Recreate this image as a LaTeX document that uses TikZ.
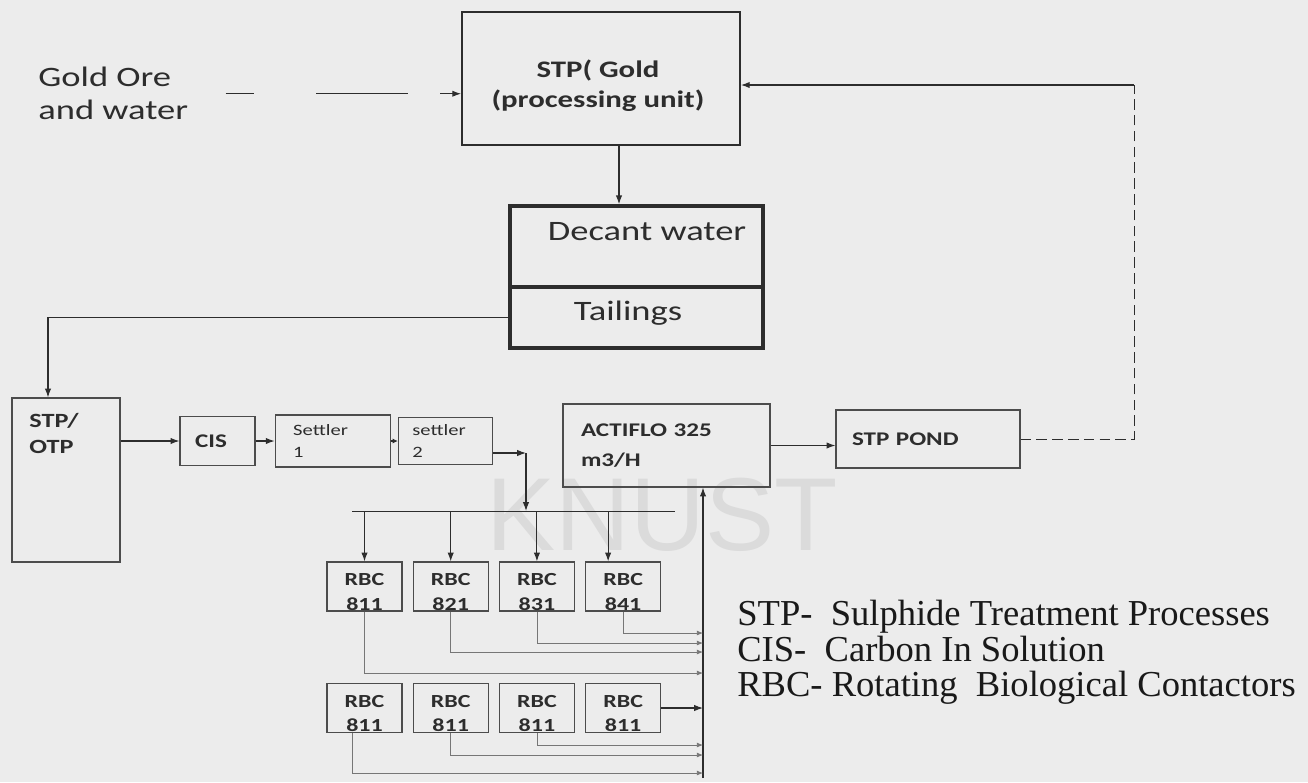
\documentclass[tikz,border=0pt]{standalone}
\usepackage{fontspec}
\usepackage{xcolor}
\usepackage{tikz}
\usetikzlibrary{arrows.meta, positioning, calc}
\setmainfont{Liberation Serif}
\newfontfamily\diafont[FakeStretch=1.3]{Carlito}
\newfontfamily\wmfont[FakeStretch=1.0]{Liberation Sans}
\definecolor{page}{RGB}{236,236,236}
\definecolor{ink}{RGB}{45,45,45}

\begin{document}
\begin{tikzpicture}[x=0.02cm, y=-0.02cm, node distance=0.2cm,
  every node/.style={inner sep=0pt, text=ink},
  unit/.style={draw=ink!85, line width=0.7pt, align=left, font=\diafont\bfseries\fontsize{11}{14}\selectfont},
  rtext/.style={align=left, font=\diafont\fontsize{16}{18.8}\selectfont},
  stext/.style={font=\diafont\fontsize{9}{12.5}\selectfont},
  rbclab/.style={align=center, yshift=-0.11cm, font=\diafont\bfseries\fontsize{10.5}{14}\selectfont},
  rbc/.style={unit, minimum width=1.5cm, minimum height=0.98cm, label={[rbclab]center:{RBC\\#1}}},
  arr/.style={-{Latex[length=5pt,width=3.6pt]}, draw=ink, line width=0.6pt},
  feed/.style={-{Latex[length=3.5pt,width=2.8pt]}, draw=ink!65, line width=0.45pt}]

\fill[page] (0,0) rectangle (1308,782);
\useasboundingbox (0,0) rectangle (1308,782);

% Watermark
\node[anchor=north west, font=\wmfont\fontsize{59}{59}\selectfont, text=black!14] (wm) at (486,478) {KNUST};

% Nodes
\node[rtext, anchor=north west] (ore) at (38,67) {Gold Ore\\and water};

\node[draw=ink, line width=1.1pt, minimum width=5.56cm, minimum height=2.66cm] (gold) at (601,78.5) {};
\node[align=center, font=\diafont\bfseries\fontsize{13.5}{17}\selectfont] (gold-t) at (598,86) {STP( Gold\\(processing unit)};

\node[draw=ink, line width=2pt, minimum width=5.06cm, minimum height=1.62cm] (decant) at (636.5,246.5) {};
\node[draw=ink, line width=2pt, minimum width=5.06cm, minimum height=1.22cm] (tail) at (636.5,317.5) {};
\node[rtext] (decant-t) at (647,232) {Decant water};
\node[rtext, anchor=base] (tail-t) at (628,320) {Tailings};

\node[unit, minimum width=2.16cm, minimum height=3.28cm] (otp) at (66,480) {};
\node[anchor=north west, align=left, font=\diafont\bfseries\fontsize{11.5}{15}\selectfont] (otp-t) at (29,413) {STP/\\OTP};

\node[unit, text width=0.9cm, inner xsep=0.3cm, minimum height=0.98cm] (cis) at (217.5,441) {CIS};
\node[unit, stext, text width=1.58cm, inner xsep=0.36cm, minimum height=1.04cm, right=0.38cm of cis] (s1) {Settler\\1};
\node[unit, stext, text width=1.32cm, inner xsep=0.28cm, minimum height=0.94cm, right=0.14cm of s1] (s2) {settler\\2};

\node[unit, font=\diafont\bfseries\fontsize{11}{17}\selectfont, text width=3.42cm, inner xsep=0.36cm, minimum height=1.66cm] (act) at (666.5,445.5) {ACTIFLO 325\\m3/H};
\node[unit, text width=3.04cm, inner xsep=0.32cm, minimum height=1.16cm] (pond) at (928,439) {STP POND};

\node[rbc=811] (r11) at (364.5,586.5) {};
\node[rbc=821, right=of r11] (r12) {};
\node[rbc=831, right=of r12] (r13) {};
\node[rbc=841, right=of r13] (r14) {};

\node[rbc=811] (r21) at (364.5,708) {};
\node[rbc=811, right=of r21] (r22) {};
\node[rbc=811, right=of r22] (r23) {};
\node[rbc=811, right=of r23] (r24) {};

\node[anchor=north west, align=left, text=black!90, font=\fontsize{20.8}{20.2}\selectfont] (legend) at (737,600) {STP-\ \ Sulphide Treatment Processes\\CIS-\ \ Carbon In Solution\\RBC- Rotating\ \ Biological Contactors};

% Coordinates
\coordinate (jn) at (526,453);
\coordinate (barL) at (352,511);
\coordinate (barR) at (675,511);
\coordinate (d4) at ($(r14.north)+(-15,0)$);
\coordinate (vbot) at (703,778);
\coordinate (o14) at (703,633);
\coordinate (o13) at (703,643);
\coordinate (o12) at (703,652);
\coordinate (o11) at (703,673);
\coordinate (o23) at (703,745);
\coordinate (o22) at (703,755);
\coordinate (o21) at (703,773);
\coordinate (l21) at ($(r21.south)+(-12,0)$);
\coordinate (fb) at (1134,85);

% Arrows
\draw[arr, dash pattern=on 0.56cm off 1.26cm on 1.84cm off 0.64cm on 0.5cm, shorten <=0.74cm] (ore.east) -- (ore.east -| gold.west);
\draw[arr] ($(gold.south)+(18,0)$) -- ($(decant.north)+(-17.5,0)$);
\draw[arr] (tail.west) -| ($(otp.north)+(-18,0)$);
\draw[arr] (otp.east |- cis) -- (cis);
\draw[arr] (cis) -- (s1);
\draw[-{Latex[length=3pt,width=3pt]}, draw=ink, line width=0.6pt] (s1) -- (s2);
\draw[arr] (s2.east |- jn) -- (jn);
\draw[arr] (jn) -- (jn |- barL);
\draw[draw=ink, line width=0.5pt] (barL) -- (barR);

\draw[arr] (r11.north |- barL) -- (r11.north);
\draw[arr] (r12.north |- barL) -- (r12.north);
\draw[arr] (r13.north |- barL) -- (r13.north);
\draw[arr] (d4 |- barL) -- (d4);

\draw[arr] (vbot) -- (vbot |- act.south);
\draw[feed] (r14.south) |- (o14);
\draw[feed] (r13.south) |- (o13);
\draw[feed] (r12.south) |- (o12);
\draw[feed] (r11.south) |- (o11);
\draw[arr] (r24.east) -- (r24.east -| vbot);
\draw[feed] (r23.south) |- (o23);
\draw[feed] (r22.south) |- (o22);
\draw[feed] (l21) |- (o21);

\draw[arr] (act.east) -- (act.east -| pond.west);
\draw[draw=ink, line width=0.5pt, dash pattern=on 6pt off 3pt] (pond.east) -| (fb);
\draw[arr] (fb) -- (fb -| gold.east);

\end{tikzpicture}
\end{document}
